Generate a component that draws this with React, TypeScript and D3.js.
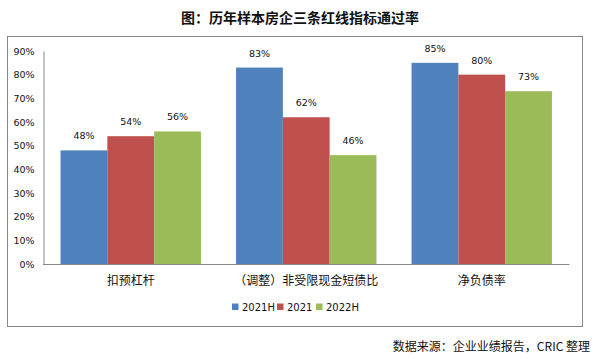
import { useEffect, useRef } from 'react';
import * as d3 from 'd3';

const CATEGORIES = ['扣预杠杆', '（调整）非受限现金短债比', '净负债率'];
const SERIES = ['2021H', '2021', '2022H'];
const COLORS = ['#4F81BD', '#C0504D', '#9BBB59'];
const VALUES_2021H = [48, 83, 85];
const VALUES_2021 = [54, 62, 80];
const VALUES_2022H = [56, 46, 73];
const Y_TICKS = [0, 10, 20, 30, 40, 50, 60, 70, 80, 90];

const FONT = '"Noto Sans CJK SC", "DejaVu Sans", sans-serif';

export default function App() {
  const svgRef = useRef<SVGSVGElement>(null);

  useEffect(() => {
    if (!svgRef.current) return;
    const svg = d3.select(svgRef.current);
    svg.selectAll('*').remove();

    const plot = { left: 43, right: 569.5, top: 51, bottom: 264 };
    const allValues = [VALUES_2021H, VALUES_2021, VALUES_2022H];

    const x0 = d3
      .scaleBand<string>()
      .domain(CATEGORIES)
      .range([plot.left, plot.right])
      .paddingInner(0.2)
      .paddingOuter(0.1);
    const x1 = d3
      .scaleBand<string>()
      .domain(SERIES)
      .range([0, x0.bandwidth()]);
    const y = d3.scaleLinear().domain([0, 90]).range([plot.bottom, plot.top]);

    // title
    svg
      .append('text')
      .attr('x', 300)
      .attr('y', 23)
      .attr('text-anchor', 'middle')
      .style('font-family', FONT)
      .style('font-size', '14px')
      .style('font-weight', '700')
      .style('fill', '#111')
      .text('图：历年样本房企三条红线指标通过率');

    // outer frame
    svg
      .append('rect')
      .attr('x', 7.5)
      .attr('y', 36.5)
      .attr('width', 575)
      .attr('height', 290)
      .attr('fill', '#fff')
      .attr('stroke', '#888')
      .attr('stroke-width', 1);

    // y axis
    const yAxis = d3
      .axisLeft(y)
      .tickValues(Y_TICKS)
      .tickSize(0)
      .tickPadding(9)
      .tickFormat((d) => `${d}%`);
    const yg = svg
      .append('g')
      .attr('transform', `translate(${plot.left + 0.5},0)`)
      .call(yAxis);
    yg.select('.domain').attr('stroke', '#888');
    yg.selectAll('text')
      .style('font-family', '"DejaVu Sans", sans-serif')
      .style('font-size', '9.5px')
      .style('fill', '#111');

    // bars
    const groups = svg
      .selectAll('.cat')
      .data(CATEGORIES)
      .enter()
      .append('g')
      .attr('class', 'cat')
      .attr('transform', (d) => `translate(${x0(d)},0)`);

    SERIES.forEach((s, si) => {
      groups
        .append('rect')
        .attr('x', x1(s)!)
        .attr('y', (_, ci) => y(allValues[si][ci]))
        .attr('width', x1.bandwidth())
        .attr('height', (_, ci) => plot.bottom - y(allValues[si][ci]))
        .attr('fill', COLORS[si]);
      groups
        .append('text')
        .attr('x', x1(s)! + x1.bandwidth() / 2)
        .attr('y', (_, ci) => y(allValues[si][ci]) - 11)
        .attr('text-anchor', 'middle')
        .style('font-family', '"DejaVu Sans", sans-serif')
        .style('font-size', '9.5px')
        .style('fill', '#111')
        .text((_, ci) => `${allValues[si][ci]}%`);
    });

    // x axis
    svg
      .append('line')
      .attr('x1', plot.left)
      .attr('x2', plot.right)
      .attr('y1', plot.bottom + 0.5)
      .attr('y2', plot.bottom + 0.5)
      .attr('stroke', '#888');

    svg
      .selectAll('.cat-label')
      .data(CATEGORIES)
      .enter()
      .append('text')
      .attr('x', (d) => x0(d)! + x0.bandwidth() / 2)
      .attr('y', 285)
      .attr('text-anchor', 'middle')
      .style('font-family', FONT)
      .style('font-size', '12px')
      .style('fill', '#111')
      .text((d) => d);

    // legend
    const legendX = [232, 277, 316];
    SERIES.forEach((s, i) => {
      svg
        .append('rect')
        .attr('x', legendX[i])
        .attr('y', 303.5)
        .attr('width', 6.5)
        .attr('height', 6.5)
        .attr('fill', COLORS[i]);
      svg
        .append('text')
        .attr('x', legendX[i] + 10)
        .attr('y', 311)
        .style('font-family', '"DejaVu Sans", sans-serif')
        .style('font-size', '10px')
        .style('fill', '#111')
        .text(s);
    });

    // source
    svg
      .append('text')
      .attr('x', 590)
      .attr('y', 351)
      .attr('text-anchor', 'end')
      .style('font-family', FONT)
      .style('font-size', '12px')
      .style('fill', '#111')
      .text('数据来源：企业业绩报告，CRIC 整理');
  }, []);

  return (
    <svg
      ref={svgRef}
      width={598}
      height={359}
      style={{ position: 'absolute', left: 0, top: 0, background: '#fff' }}
    />
  );
}
